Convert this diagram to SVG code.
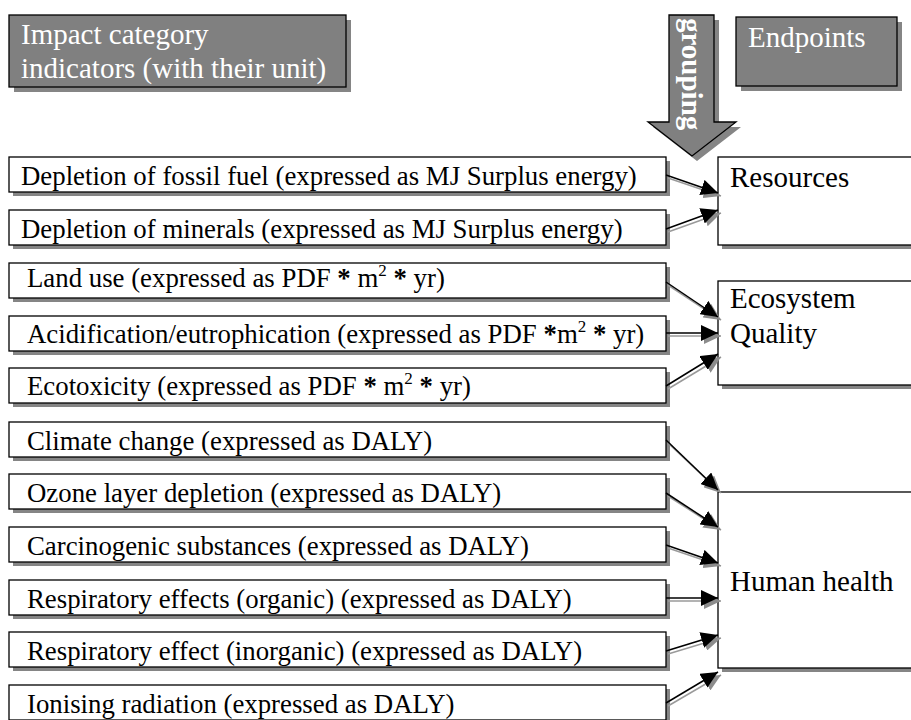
<svg xmlns="http://www.w3.org/2000/svg" width="911" height="720" viewBox="0 0 911 720">
  <style>
    .ind { font-family: 'Liberation Serif', 'DejaVu Serif', serif; font-size: 26.8px; fill: #000; }
    .end { font-family: 'Liberation Serif', 'DejaVu Serif', serif; font-size: 29px; fill: #000; }
    .hdr { font-family: 'Liberation Serif', 'DejaVu Serif', serif; font-size: 29px; fill: #fff; }
    .grp { font-family: 'Liberation Serif', 'DejaVu Serif', serif; font-size: 29px; font-weight: bold; fill: #fff; }
    .box { fill: #fff; stroke: #000; stroke-width: 1.3; }
    .hbox { fill: #808080; stroke: #000; stroke-width: 1.3; }
    .shadow { fill: #858585; }
    .sup { font-size: 17px; }
    .ast { font-weight: bold; }
    .link { stroke: #000; stroke-width: 1.5; fill: none; marker-end: url(#head); }
    .link-sh { stroke: #9a9a9a; stroke-width: 1.5; fill: none; marker-end: url(#head-sh); }
  </style>
  <defs>
    <marker id="head" markerUnits="userSpaceOnUse" markerWidth="18" markerHeight="16" refX="17" refY="8" orient="auto">
      <path d="M0,0 L17,8 L0,16 Z" fill="#000"/>
    </marker>
    <marker id="head-sh" markerUnits="userSpaceOnUse" markerWidth="18" markerHeight="16" refX="17" refY="8" orient="auto">
      <path d="M0,0 L17,8 L0,16 Z" fill="#8c8c8c"/>
    </marker>
  </defs>

  <rect width="911" height="720" fill="#fff"/>

  <!-- column headers -->
  <g id="header-indicators">
    <rect class="shadow" x="14" y="20" width="337" height="72"/>
    <rect class="hbox" x="9" y="15" width="337" height="72"/>
    <text class="hdr" x="21" y="44">Impact category</text>
    <text class="hdr" x="21" y="78">indicators (with their unit)</text>
  </g>

  <g id="header-endpoints">
    <rect class="shadow" x="741" y="22" width="161" height="69"/>
    <rect class="hbox" x="736" y="17" width="161" height="69"/>
    <text class="hdr" x="748" y="47">Endpoints</text>
  </g>

  <g id="grouping-arrow">
    <path class="shadow" d="M674,20 H719 V127 H741 L697,161 L653,127 H674 Z"/>
    <path d="M669,15 H714 V122 H736 L692,156 L648,122 H669 Z" fill="#808080" stroke="#000" stroke-width="1.3"/>
    <text class="grp" transform="translate(682,18) rotate(90)">grouping</text>
  </g>

  <!-- endpoint boxes (running off the right edge) -->
  <g id="resources">
    <rect class="shadow" x="722" y="161" width="200" height="88"/>
    <rect class="box" x="718" y="157" width="200" height="88"/>
    <text class="end" x="730" y="187">Resources</text>
  </g>

  <g id="ecosystem-quality">
    <rect class="shadow" x="722" y="285" width="200" height="104"/>
    <rect class="box" x="718" y="281" width="200" height="104"/>
    <text class="end" x="730" y="308">Ecosystem</text>
    <text class="end" x="730" y="343">Quality</text>
  </g>

  <g id="human-health">
    <rect class="shadow" x="722" y="496" width="200" height="176"/>
    <rect class="box" x="718" y="492" width="200" height="176"/>
    <text class="end" x="730" y="591">Human health</text>
  </g>

  <!-- impact category indicators -->
  <g id="fossil-fuel">
    <rect class="shadow" x="13" y="161" width="657" height="35"/>
    <rect class="box" x="9" y="157" width="657" height="35"/>
    <text class="ind" x="21" y="184.5">Depletion of fossil fuel (expressed as MJ Surplus energy)</text>
  </g>
  <g id="minerals">
    <rect class="shadow" x="13" y="214" width="657" height="35"/>
    <rect class="box" x="9" y="210" width="657" height="35"/>
    <text class="ind" x="21" y="237.5">Depletion of minerals (expressed as MJ Surplus energy)</text>
  </g>
  <g id="land-use">
    <rect class="shadow" x="13" y="267" width="657" height="35"/>
    <rect class="box" x="9" y="263" width="657" height="35"/>
    <text class="ind" x="27" y="287">Land use (expressed as PDF <tspan class="ast">*</tspan> m<tspan class="sup" dy="-11">2</tspan><tspan dy="11"> </tspan><tspan class="ast">*</tspan> yr)</text>
  </g>
  <g id="acidification">
    <rect class="shadow" x="13" y="320" width="657" height="35"/>
    <rect class="box" x="9" y="316" width="657" height="35"/>
    <text class="ind" x="27" y="343">Acidification/eutrophication (expressed as PDF <tspan class="ast">*</tspan>m<tspan class="sup" dy="-11">2</tspan><tspan dy="11"> </tspan><tspan class="ast">*</tspan> yr)</text>
  </g>
  <g id="ecotoxicity">
    <rect class="shadow" x="13" y="372" width="657" height="35"/>
    <rect class="box" x="9" y="368" width="657" height="35"/>
    <text class="ind" x="27" y="395">Ecotoxicity (expressed as PDF <tspan class="ast">*</tspan> m<tspan class="sup" dy="-11">2</tspan><tspan dy="11"> </tspan><tspan class="ast">*</tspan> yr)</text>
  </g>
  <g id="climate-change">
    <rect class="shadow" x="13" y="426" width="657" height="35"/>
    <rect class="box" x="9" y="422" width="657" height="35"/>
    <text class="ind" x="27" y="450">Climate change (expressed as DALY)</text>
  </g>
  <g id="ozone">
    <rect class="shadow" x="13" y="478" width="657" height="35"/>
    <rect class="box" x="9" y="474" width="657" height="35"/>
    <text class="ind" x="27" y="502">Ozone layer depletion (expressed as DALY)</text>
  </g>
  <g id="carcinogenic">
    <rect class="shadow" x="13" y="531" width="657" height="35"/>
    <rect class="box" x="9" y="527" width="657" height="35"/>
    <text class="ind" x="27" y="555">Carcinogenic substances (expressed as DALY)</text>
  </g>
  <g id="resp-organic">
    <rect class="shadow" x="13" y="584" width="657" height="35"/>
    <rect class="box" x="9" y="580" width="657" height="35"/>
    <text class="ind" x="27" y="608">Respiratory effects (organic) (expressed as DALY)</text>
  </g>
  <g id="resp-inorganic">
    <rect class="shadow" x="13" y="636" width="657" height="35"/>
    <rect class="box" x="9" y="632" width="657" height="35"/>
    <text class="ind" x="27" y="660">Respiratory effect (inorganic) (expressed as DALY)</text>
  </g>
  <g id="ionising">
    <rect class="shadow" x="13" y="689" width="657" height="35"/>
    <rect class="box" x="9" y="685" width="657" height="35"/>
    <text class="ind" x="27" y="713">Ionising radiation (expressed as DALY)</text>
  </g>

  <!-- connectors: gray shadow first, then the black line on top -->
  <g id="connectors">
    <line class="link-sh" x1="668" y1="178" x2="721" y2="196"/>
    <line class="link-sh" x1="668" y1="232" x2="721" y2="213"/>
    <line class="link-sh" x1="668" y1="285" x2="721" y2="320"/>
    <line class="link-sh" x1="668" y1="336" x2="721" y2="336"/>
    <line class="link-sh" x1="668" y1="389" x2="721" y2="357"/>
    <line class="link-sh" x1="668" y1="443" x2="721" y2="493"/>
    <line class="link-sh" x1="668" y1="496" x2="721" y2="530"/>
    <line class="link-sh" x1="668" y1="548" x2="721" y2="566"/>
    <line class="link-sh" x1="668" y1="601" x2="721" y2="601"/>
    <line class="link-sh" x1="668" y1="654" x2="721" y2="638"/>
    <line class="link-sh" x1="668" y1="706" x2="721" y2="675"/>

    <line class="link" x1="666" y1="175" x2="718" y2="193"/>
    <line class="link" x1="666" y1="229" x2="718" y2="210"/>
    <line class="link" x1="666" y1="282" x2="718" y2="317"/>
    <line class="link" x1="666" y1="333" x2="718" y2="333"/>
    <line class="link" x1="666" y1="386" x2="718" y2="354"/>
    <line class="link" x1="666" y1="440" x2="718" y2="490"/>
    <line class="link" x1="666" y1="493" x2="718" y2="527"/>
    <line class="link" x1="666" y1="545" x2="718" y2="563"/>
    <line class="link" x1="666" y1="598" x2="718" y2="598"/>
    <line class="link" x1="666" y1="651" x2="718" y2="635"/>
    <line class="link" x1="666" y1="703" x2="718" y2="672"/>
  </g>
</svg>
